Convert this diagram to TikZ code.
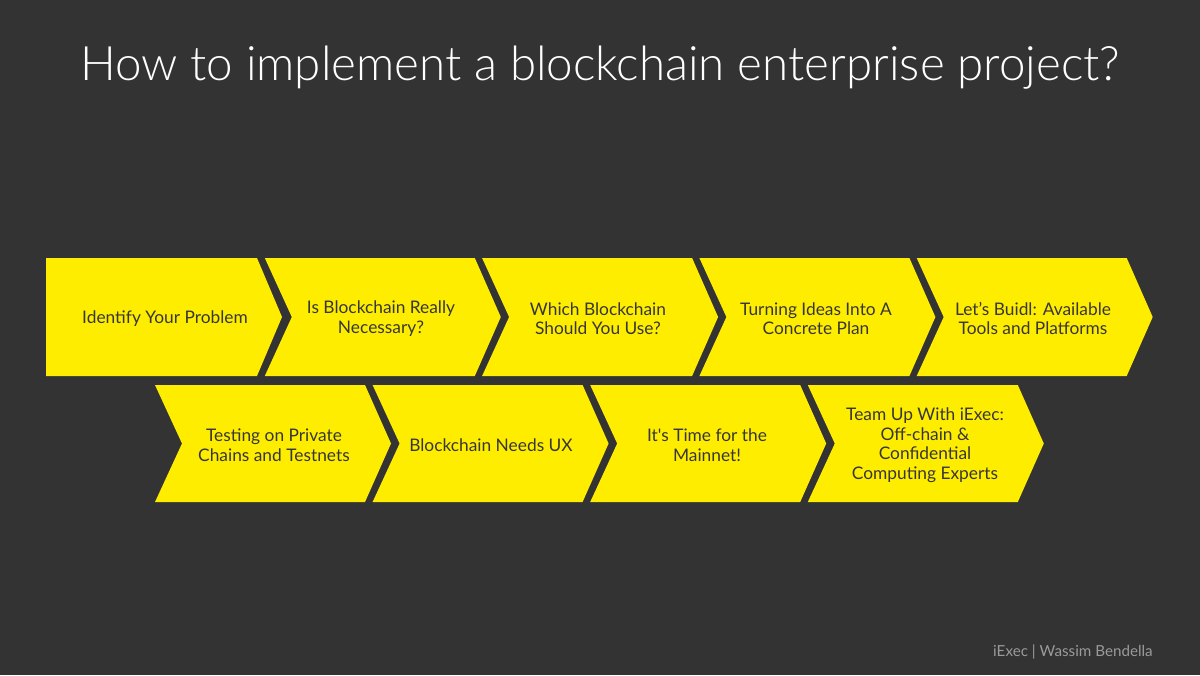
\documentclass[tikz,border=0pt]{standalone}
\usepackage{fontspec}
\setmainfont{Lato}
\newfontfamily\titlefont{Lato Light}
\definecolor{bg}{HTML}{333333}
\definecolor{chev}{HTML}{FFED00}
\definecolor{ink}{HTML}{363636}
\definecolor{foot}{HTML}{9A9A9A}
\tikzset{
  chevfill/.style={fill=chev},
  steplabel/.style={text=ink, align=center, font=\fontsize{13}{14.6}\selectfont, inner sep=0pt},
}
\begin{document}
\begin{tikzpicture}[x=0.75pt,y=-0.75pt]
\fill[bg] (0,0) rectangle (1200,675);
\useasboundingbox (0,0) rectangle (1200,675);
% title
\node[text=white, font=\titlefont\fontsize{35.6}{40}\selectfont, anchor=base] (title) at (600,80) {How to implement a blockchain enterprise project?};
% row 1
\fill[chevfill] (46,258) -- (257,258) -- (282,317) -- (257,376) -- (46,376) -- cycle;
\foreach \i in {1,2,3,4}{
  \pgfmathsetmacro{\xo}{47.5+217.3*\i}
  \fill[chevfill] (\xo,258) -- ({\xo+210},258) -- ({\xo+236},317) -- ({\xo+210},376) -- (\xo,376) -- ({\xo+27},317) -- cycle;
}
% row 2
\foreach \i in {0,1,2,3}{
  \pgfmathsetmacro{\xo}{155+217.6*\i}
  \fill[chevfill] (\xo,385) -- ({\xo+210},385) -- ({\xo+236},443.5) -- ({\xo+210},502) -- (\xo,502) -- ({\xo+27},443.5) -- cycle;
}
% labels row 1
\node[steplabel] (s1) at (165,318.5) {Identify Your Problem};
\node[steplabel] (s2) at (381,318.5) {Is Blockchain Really\\Necessary?};
\node[steplabel] (s3) at (598,318.5) {Which Blockchain\\Should You Use?};
\node[steplabel] (s4) at (816,318.5) {Turning Ideas Into A\\Concrete Plan};
\node[steplabel] (s5) at (1033,318.5) {Let’s Buidl: Available\\Tools and Platforms};
% labels row 2
\node[steplabel] (s6) at (274,445) {Testing on Private\\Chains and Testnets};
\node[steplabel] (s7) at (491,445) {Blockchain Needs UX};
\node[steplabel] (s8) at (707,445) {It\textquotesingle s Time for the\\Mainnet!};
\node[steplabel] (s9) at (925,445) {Team Up With iExec:\\Off-chain \&\\Confidential\\Computing Experts};
% footer
\node[text=foot, font=\fontsize{11.4}{13}\selectfont, anchor=base east, inner sep=0pt] (foot) at (1153,656) {iExec | Wassim Bendella};
\end{tikzpicture}
\end{document}
